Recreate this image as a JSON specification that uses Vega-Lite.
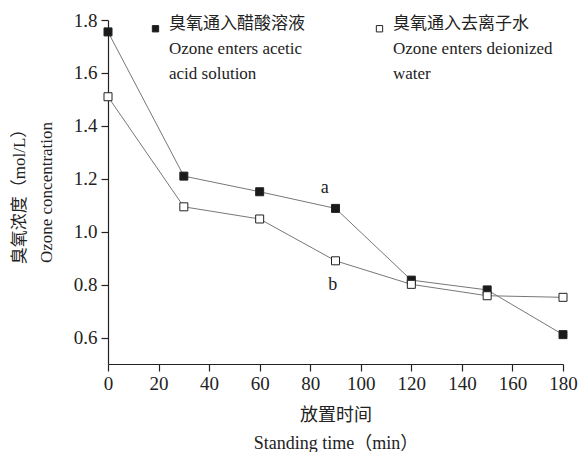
{
  "$schema": "https://vega.github.io/schema/vega-lite/v6.json",
  "width": 455,
  "height": 344,
  "autosize": {"type": "none"},
  "padding": {"left": 108, "top": 20, "right": 20, "bottom": 88},
  "background": "white",
  "config": {
    "view": {"stroke": null},
    "font": "Liberation Serif",
    "style": {"guide-label": {"lineHeight": 25}}
  },
  "datasets": {
    "series": [
      {"t": 0, "c": 1.755, "series": "a"},
      {"t": 30, "c": 1.21, "series": "a"},
      {"t": 60, "c": 1.151, "series": "a"},
      {"t": 90, "c": 1.088, "series": "a"},
      {"t": 120, "c": 0.817, "series": "a"},
      {"t": 150, "c": 0.78, "series": "a"},
      {"t": 180, "c": 0.611, "series": "a"},
      {"t": 0, "c": 1.51, "series": "b"},
      {"t": 30, "c": 1.094, "series": "b"},
      {"t": 60, "c": 1.048, "series": "b"},
      {"t": 90, "c": 0.89, "series": "b"},
      {"t": 120, "c": 0.801, "series": "b"},
      {"t": 150, "c": 0.758, "series": "b"},
      {"t": 180, "c": 0.752, "series": "b"}
    ],
    "labels": [
      {"t": 85.7, "c": 1.165, "label": "a"},
      {"t": 88.9, "c": 0.8, "label": "b"}
    ]
  },
  "layer": [
    {
      "data": {"name": "series"},
      "mark": {"type": "line", "color": "#777", "strokeWidth": 1},
      "encoding": {
        "x": {
          "field": "t", "type": "quantitative",
          "scale": {"domain": [0, 180], "nice": false},
          "axis": {
            "values": [0, 10, 20, 30, 40, 50, 60, 70, 80, 90, 100, 110, 120, 130, 140, 150, 160, 170, 180],
            "labelExpr": "datum.value % 20 == 10 ? '' : datum.label",
            "grid": false,
            "domainColor": "#222", "tickColor": "#222", "domainWidth": 1.2, "tickWidth": 1.2,
            "tickSize": 7,
            "labelFlush": false,
            "labelFont": "Liberation Serif",
            "labelFontSize": 19, "labelColor": "#222", "labelPadding": 3,
            "title": ["放置时间", "Standing time（min）"],
            "titleFont": "'Liberation Serif', 'Noto Sans CJK SC'",
            "titleFontSize": 18, "titleFontWeight": "normal", "titleColor": "#222",
            "titleLineHeight": 28, "titlePadding": 13,
            "encode": {"ticks": {"update": {"y2": {"signal": "datum.value % 20 == 10 ? 4 : 7"}}}}
          }
        },
        "y": {
          "field": "c", "type": "quantitative",
          "scale": {"domain": [0.5, 1.8], "nice": false, "zero": false},
          "axis": {
            "values": [0.6, 0.7, 0.8, 0.9, 1.0, 1.1, 1.2, 1.3, 1.4, 1.5, 1.6, 1.7, 1.8],
            "labelExpr": "round(datum.value * 10) % 2 == 1 ? '' : format(datum.value, '.1f')",
            "grid": false,
            "domainColor": "#222", "tickColor": "#222", "domainWidth": 1.2, "tickWidth": 1.2,
            "tickSize": 7,
            "labelFlush": false,
            "labelFont": "Liberation Serif",
            "labelFontSize": 19, "labelColor": "#222", "labelPadding": 4,
            "title": ["臭氧浓度（mol/L）", "Ozone concentration"],
            "titleFont": "'Liberation Serif', 'Noto Sans CJK SC'",
            "titleFontSize": 17, "titleFontWeight": "normal", "titleColor": "#222",
            "titleLineHeight": 27, "titlePadding": 18,
            "encode": {"ticks": {"update": {"x2": {"signal": "round(datum.value * 10) % 2 == 1 ? -4 : -7"}}}}
          }
        },
        "detail": {"field": "series"}
      }
    },
    {
      "data": {"name": "series"},
      "mark": {"type": "point", "shape": "square", "filled": true, "size": 64, "stroke": "#222", "strokeWidth": 1, "opacity": 1},
      "encoding": {
        "x": {"field": "t", "type": "quantitative"},
        "y": {"field": "c", "type": "quantitative"},
        "fill": {
          "field": "series", "type": "nominal",
          "scale": {"domain": ["a", "b"], "range": ["#1a1a1a", "white"]},
          "legend": {
            "orient": "none", "legendX": 39, "legendY": 0,
            "direction": "horizontal", "columns": 2, "columnPadding": 66,
            "title": null, "padding": 0,
            "symbolType": "square", "symbolSize": 40,
            "symbolStrokeColor": "#222", "symbolStrokeWidth": 1,
            "labelFont": "'Liberation Serif', 'Noto Sans CJK SC'",
            "labelFontSize": 17, "labelColor": "#222",
            "labelBaseline": "alphabetic", "labelOffset": 5, "labelLimit": 0,
            "labelExpr": "datum.label == 'a' ? ['臭氧通入醋酸溶液', 'Ozone enters acetic', 'acid solution'] : ['臭氧通入去离子水', 'Ozone enters deionized', 'water']",
            "encode": {"labels": {"enter": {"lineHeight": {"value": 25}}, "update": {"lineHeight": {"value": 25}}}}
          }
        }
      }
    },
    {
      "data": {"name": "labels"},
      "mark": {"type": "text", "fontSize": 18, "font": "Liberation Serif", "color": "#222"},
      "encoding": {
        "x": {"field": "t", "type": "quantitative"},
        "y": {"field": "c", "type": "quantitative"},
        "text": {"field": "label"}
      }
    }
  ]
}
